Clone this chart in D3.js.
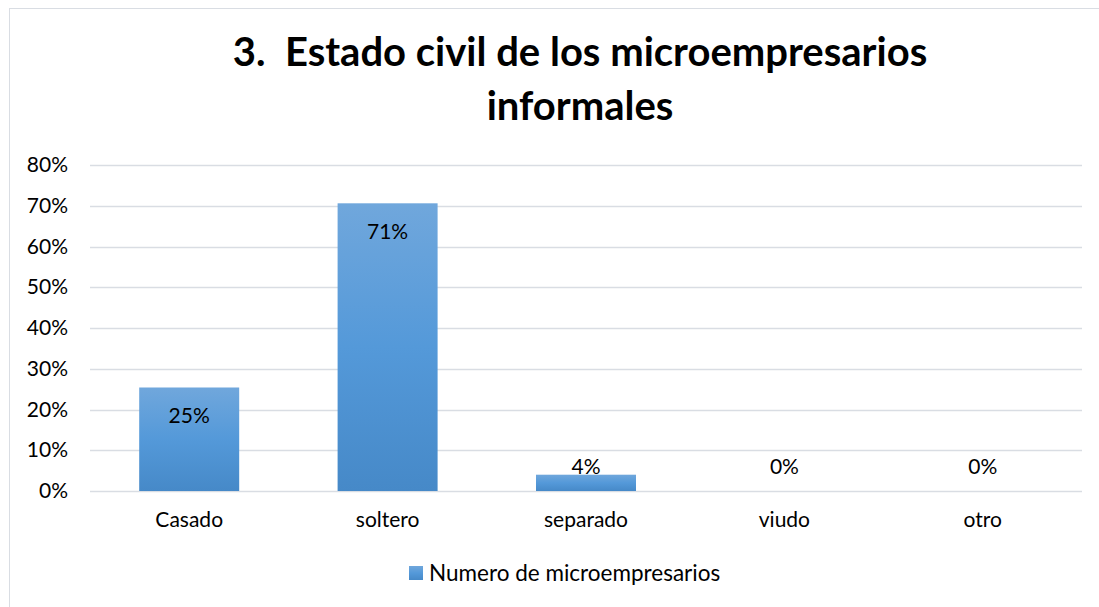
<!DOCTYPE html>
<html><head><meta charset="utf-8">
<script src="https://cdn.jsdelivr.net/npm/d3@7"></script>
<style>
html,body{margin:0;padding:0;background:#fff;}
svg{display:block;font-family:Lato, "Open Sans", sans-serif;}
.pre{white-space:pre;}
</style></head>
<body>
<svg id="chart" width="1099" height="607"></svg>
<script>
const categories = ["Casado","soltero","separado","viudo","otro"];
const values = [0.254, 0.706, 0.040, 0, 0];
const yTicks = [0,0.1,0.2,0.3,0.4,0.5,0.6,0.7,0.8];
const titleLines = ["3.  Estado civil de los microempresarios","informales"];
const seriesName = "Numero de microempresarios";

const svg = d3.select("#chart");
const W = 1099, H = 607;
const m = {left:90, right:17, top:165, bottom:116};
const x = d3.scaleBand().domain(categories).range([m.left, W-m.right]).paddingInner(0.496).paddingOuter(0.248);
const y = d3.scaleLinear().domain([0,0.8]).range([H-m.bottom, m.top]);

const defs = svg.append("defs");
const g = defs.append("linearGradient").attr("id","barg").attr("x1",0).attr("y1",0).attr("x2",0).attr("y2",1);
g.append("stop").attr("offset","0%").attr("stop-color","#70a7dc");
g.append("stop").attr("offset","50%").attr("stop-color","#5499d9");
g.append("stop").attr("offset","100%").attr("stop-color","#4689c8");

svg.append("rect").attr("x",9.5).attr("y",8.5).attr("width",W+10).attr("height",H+10)
  .attr("fill","#fff").attr("stroke","#d9dde3").attr("stroke-width",1);

// title
svg.append("text").attr("class","pre").attr("x",580).attr("text-anchor","middle")
  .attr("font-size",40).attr("font-weight","bold").attr("fill","#000")
  .selectAll("tspan").data(titleLines).join("tspan")
  .attr("x",580).attr("y",(d,i)=>66+i*54).text(d=>d);

// gridlines
svg.append("g").selectAll("line").data(yTicks).join("line")
  .attr("x1",m.left).attr("x2",W-m.right)
  .attr("y1",d=>Math.round(y(d))+0.5).attr("y2",d=>Math.round(y(d))+0.5)
  .attr("stroke","#d9dde3").attr("stroke-width",1.5);

// y axis
const ya = svg.append("g").attr("transform",`translate(${m.left-22},0)`)
  .call(d3.axisLeft(y).tickValues(yTicks).tickFormat(d3.format(".0%")).tickSize(0).tickPadding(0));
ya.select(".domain").remove();
ya.selectAll("text").attr("font-size",21).attr("fill","#000").attr("font-family","Lato, sans-serif");

// x axis
const xa = svg.append("g").attr("transform",`translate(0,${H-m.bottom})`)
  .call(d3.axisBottom(x).tickSize(0).tickPadding(21));
xa.select(".domain").remove();
xa.selectAll("text").attr("font-size",21).attr("fill","#000").attr("font-family","Lato, sans-serif");

// bars
const data = categories.map((c,i)=>({c, v:values[i]}));
svg.append("g").selectAll("rect").data(data).join("rect")
  .attr("x",d=>x(d.c)).attr("width",x.bandwidth())
  .attr("y",d=>y(d.v)).attr("height",d=>y(0)-y(d.v))
  .attr("fill","url(#barg)");

// labels
svg.append("g").selectAll("text").data(data).join("text")
  .attr("x",d=>x(d.c)+x.bandwidth()/2)
  .attr("y",d=> (y(0)-y(d.v))>40 ? y(d.v)+36 : Math.min(y(d.v), y(0)-17))
  .attr("text-anchor","middle").attr("font-size",21).attr("fill","#000")
  .text(d=>d3.format(".0%")(d.v));

// legend
const lg = svg.append("g").attr("transform","translate(409,573)");
lg.append("rect").attr("x",0).attr("y",-7).attr("width",14).attr("height",14).attr("fill","url(#barg)");
lg.append("text").attr("x",20).attr("y",7.5).attr("font-size",22.5).attr("fill","#000").text(seriesName);
</script>
</body></html>
